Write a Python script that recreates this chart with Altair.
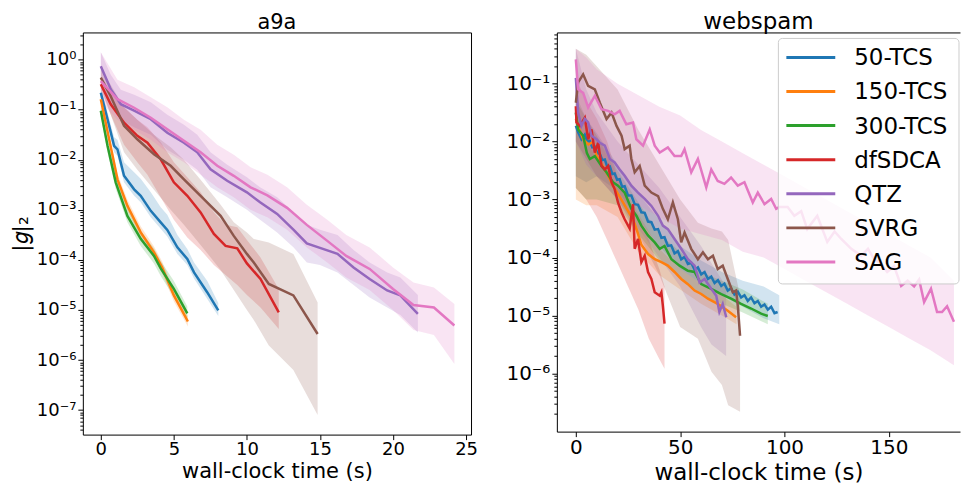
import altair as alt
import pandas as pd

SERIES = ["50-TCS", "150-TCS", "300-TCS", "dfSDCA", "QTZ", "SVRG", "SAG"]
COLORS = ["#1f77b4", "#ff7f0e", "#2ca02c", "#d62728", "#9467bd", "#8c564b", "#e377c2"]

# ---------------- a9a (left): time in s, log10 of |g|_2 ----------------
a9a_50tcs_t = [0, 0.46, 0.91, 1.14, 1.59, 2.28, 2.73, 3.42, 4.1, 4.55, 5.24, 5.92, 6.38, 7.29, 8.04]
a9a_50tcs_m = [-0.66, -1.19, -1.72, -1.79, -2.32, -2.59, -2.72, -3.02, -3.25, -3.4, -3.75, -3.98, -4.25, -4.65, -5.01]
a9a_50tcs_lo = [-0.76, -1.32, -1.85, -1.92, -2.45, -2.72, -2.85, -3.15, -3.38, -3.53, -3.88, -4.1, -4.37, -4.78, -5.12]
a9a_50tcs_hi = [-0.55, -1.05, -1.55, -1.6, -2.05, -2.25, -2.38, -2.65, -2.95, -3.1, -3.5, -3.78, -4.05, -4.42, -4.86]

a9a_150tcs_t = [0, 0.57, 1.14, 1.82, 2.73, 3.64, 4.2, 5.0, 5.96]
a9a_150tcs_m = [-0.79, -1.59, -2.39, -2.92, -3.45, -3.85, -4.15, -4.71, -5.23]
a9a_150tcs_lo = [-0.88, -1.7, -2.5, -3.02, -3.55, -3.95, -4.27, -4.83, -5.33]
a9a_150tcs_hi = [-0.7, -1.48, -2.28, -2.8, -3.33, -3.73, -4.03, -4.6, -5.12]

a9a_300tcs_t = [0, 0.46, 1.02, 1.82, 2.73, 3.64, 4.1, 5.0, 5.92]
a9a_300tcs_m = [-1.02, -1.72, -2.45, -3.12, -3.58, -3.92, -4.17, -4.58, -5.07]
a9a_300tcs_lo = [-1.14, -1.85, -2.58, -3.25, -3.72, -4.07, -4.32, -4.73, -5.2]
a9a_300tcs_hi = [-0.9, -1.6, -2.3, -2.95, -3.42, -3.77, -4.02, -4.42, -4.93]

a9a_dfsdca_t = [0, 0.68, 1.59, 2.5, 3.19, 4.1, 5.0, 5.92, 6.83, 7.74, 8.54, 9.34, 10.0, 10.93, 12.18]
a9a_dfsdca_m = [-0.49, -0.89, -1.26, -1.52, -1.66, -1.99, -2.45, -2.72, -3.05, -3.48, -3.72, -3.77, -4.07, -4.38, -5.05]
a9a_dfsdca_lo = [-0.6, -1.1, -1.7, -2.05, -2.3, -2.75, -3.2, -3.55, -3.8, -4.1, -4.3, -4.5, -4.7, -4.95, -5.38]
a9a_dfsdca_hi = [-0.35, -0.65, -0.95, -1.2, -1.35, -1.65, -2.05, -2.35, -2.65, -3.05, -3.3, -3.35, -3.6, -3.95, -4.58]

a9a_qtz_t = [0, 0.68, 1.37, 2.28, 3.42, 4.55, 5.69, 6.6, 7.51, 8.65, 10.0, 10.9, 12.07, 13.2, 14.1, 15.0,
             16.2, 17.3, 18.4, 19.6, 20.5, 21.7]
a9a_qtz_m = [-0.13, -0.59, -0.89, -1.02, -1.19, -1.46, -1.66, -1.85, -2.19, -2.42, -2.65, -2.85, -3.08, -3.4,
             -3.67, -3.76, -3.88, -4.15, -4.38, -4.61, -4.71, -5.08]
a9a_qtz_lo = [-0.45, -0.9, -1.2, -1.35, -1.5, -1.8, -2.0, -2.2, -2.55, -2.75, -3.0, -3.2, -3.45, -3.75, -4.05,
              -4.1, -4.25, -4.5, -4.75, -4.95, -5.1, -5.45]
a9a_qtz_hi = [0.15, -0.3, -0.6, -0.7, -0.85, -1.1, -1.3, -1.5, -1.85, -2.1, -2.35, -2.55, -2.75, -3.05, -3.3,
              -3.4, -3.5, -3.8, -4.05, -4.25, -4.35, -4.7]

a9a_svrg_t = [0, 0.68, 1.59, 2.5, 3.64, 4.78, 5.69, 6.83, 8.2, 9.1, 10.0, 10.47, 11.5, 13.18, 14.84]
a9a_svrg_m = [-0.36, -0.73, -1.32, -1.59, -1.89, -2.12, -2.39, -2.72, -3.12, -3.52, -3.88, -4.05, -4.48, -4.71, -5.48]
a9a_svrg_lo = [-0.55, -1.1, -1.85, -2.2, -2.6, -3.0, -3.3, -3.7, -4.2, -4.6, -5.0, -5.2, -5.71, -6.2, -7.1]
a9a_svrg_hi = [-0.2, -0.5, -0.95, -1.2, -1.5, -1.75, -2.0, -2.4, -2.9, -3.25, -3.45, -3.58, -3.65, -3.88, -4.85]

a9a_sag_t = [0, 1.14, 2.28, 3.42, 4.55, 5.69, 6.83, 7.97, 9.1, 10.25, 11.4, 12.75, 14.1, 15.5, 16.8, 18.4,
             20.0, 21.4, 22.8, 24.2]
a9a_sag_m = [-0.43, -0.79, -0.96, -1.16, -1.39, -1.62, -1.85, -2.12, -2.32, -2.55, -2.71, -2.96, -3.3, -3.62,
             -3.92, -4.18, -4.58, -4.9, -4.95, -5.31]
a9a_sag_lo = [-0.85, -1.2, -1.4, -1.6, -1.85, -2.05, -2.3, -2.55, -2.75, -3.0, -3.15, -3.4, -3.75, -4.05, -4.35,
              -4.6, -5.0, -5.4, -5.5, -6.08]
a9a_sag_hi = [0.15, -0.4, -0.55, -0.75, -0.95, -1.2, -1.4, -1.7, -1.9, -2.15, -2.3, -2.55, -2.9, -3.2, -3.5,
              -3.75, -4.15, -4.45, -4.55, -4.88]

# ---------------- webspam (right) ----------------
ws_50tcs_t = [0, 1.1, 2.7, 4.3, 5.5, 6.7, 7.9, 9.1, 10.3, 11.5, 12.7, 13.9, 15.1, 16.3, 17.5, 18.6, 19.8, 21,
              22.2, 23.4, 25, 26.6, 28.2, 29.8, 31.4, 33, 34.6, 36.2, 37.8, 39.4, 41, 42.5, 44.1, 45.7, 47.3,
              48.9, 50.5, 52.1, 53.7, 55.3, 56.9, 58.5, 60.1, 61.7, 63.3, 64.9, 66.5, 68.1, 69.7, 71.2, 72.8,
              74.4, 76, 77.6, 79.2, 80.8, 82.4, 84, 85.6, 87.2, 88.8, 90.4, 92, 93.6, 95.2, 96.7]
ws_50tcs_m = [-1.73, -1.84, -1.96, -1.88, -2.0, -1.99, -2.1, -2.09, -2.2, -2.21, -2.32, -2.31, -2.44, -2.43,
              -2.56, -2.55, -2.66, -2.65, -2.78, -2.77, -2.93, -2.93, -3.08, -3.09, -3.22, -3.23, -3.38, -3.39,
              -3.52, -3.51, -3.66, -3.65, -3.8, -3.79, -3.93, -3.89, -4.03, -3.99, -4.11, -4.09, -4.21, -4.17,
              -4.29, -4.25, -4.37, -4.33, -4.44, -4.39, -4.49, -4.45, -4.57, -4.53, -4.64, -4.59, -4.69, -4.65,
              -4.75, -4.69, -4.79, -4.75, -4.85, -4.81, -4.9, -4.85, -4.96, -4.94]
ws_50tcs_bt = [0, 5, 10, 20, 30, 40, 50, 60, 70, 80, 90, 97.5]
ws_50tcs_lo = [-2.6, -2.7, -2.6, -2.85, -3.35, -3.8, -4.2, -4.45, -4.65, -4.85, -5.05, -5.15]
ws_50tcs_hi = [-1.3, -1.6, -1.85, -2.4, -2.9, -3.35, -3.8, -4.05, -4.25, -4.4, -4.5, -4.65]

ws_150tcs_t = [0, 1.1, 3.5, 6, 8.1, 10, 12.3, 14.6, 17.8, 21, 24.2, 27.4, 29, 31.4, 34.6, 37.8, 41, 44.1,
               47.3, 50.5, 53.7, 56.9, 60.1, 63.3, 68, 72.8, 76.8]
ws_150tcs_m = [-1.61, -1.73, -1.96, -2.05, -2.01, -2.25, -2.38, -2.53, -2.76, -2.95, -3.15, -3.34, -3.5, -3.78,
               -3.94, -4.03, -4.08, -4.14, -4.25, -4.37, -4.46, -4.57, -4.63, -4.71, -4.8, -4.92, -5.03]
ws_150tcs_bt = [0, 5, 10, 20, 30, 40, 50, 60, 70, 77]
ws_150tcs_lo = [-3.0, -3.1, -3.1, -3.3, -3.9, -4.3, -4.55, -4.8, -5.0, -5.15]
ws_150tcs_hi = [-1.3, -1.6, -1.9, -2.6, -3.25, -3.85, -4.2, -4.45, -4.65, -4.85]

ws_300tcs_t = [0, 1.1, 3.5, 5.3, 6.7, 9.1, 12.3, 14.7, 17.8, 20.2, 23.4, 26.6, 29, 31.4, 34.6, 37.8, 40.2,
               42.5, 45.8, 49.7, 53.7, 56.9, 60.1, 64.9, 69.7, 74.4, 79.2, 84, 88.8, 92]
ws_300tcs_m = [-1.5, -1.79, -1.9, -2.2, -2.3, -2.25, -2.42, -2.53, -2.7, -2.76, -2.88, -3.16, -3.28, -3.45,
               -3.62, -3.74, -3.85, -3.8, -4.03, -4.14, -4.23, -4.25, -4.46, -4.54, -4.63, -4.71, -4.8, -4.88,
               -4.97, -5.01]
ws_300tcs_bt = [0, 5, 10, 20, 30, 40, 50, 60, 70, 80, 92]
ws_300tcs_lo = [-2.8, -3.0, -3.0, -3.1, -3.6, -4.05, -4.35, -4.65, -4.8, -4.95, -5.15]
ws_300tcs_hi = [-1.2, -1.6, -1.9, -2.5, -3.05, -3.6, -3.9, -4.25, -4.4, -4.55, -4.8]

ws_dfsdca_t = [0, 0.3, 1.9, 4.3, 5.9, 7.5, 9.1, 10.7, 12.3, 13.9, 15.5, 17.1, 18.6, 20.2, 21.9, 23.4, 25.8,
               27.4, 28.2, 29.8, 31.4, 33, 34.6, 36.2, 37.8, 40.2, 41, 41.7, 42.5]
ws_dfsdca_m = [-1.39, -1.67, -1.73, -1.59, -1.96, -1.79, -2.19, -2.02, -2.42, -2.48, -2.42, -2.7, -2.82, -3.05,
               -3.22, -3.34, -3.5, -3.08, -3.85, -3.68, -4.08, -3.97, -4.25, -4.37, -4.6, -4.66, -4.6, -4.83, -5.14]
ws_dfsdca_bt = [0, 5, 10, 15, 20, 25, 30, 35, 40, 42.5]
ws_dfsdca_lo = [-2.8, -3.0, -3.3, -3.7, -4.1, -4.5, -4.9, -5.4, -5.75, -5.92]
ws_dfsdca_hi = [-0.9, -1.3, -1.6, -2.0, -2.6, -3.0, -3.3, -3.7, -4.2, -4.5]

ws_qtz_t = [0, 1.1, 2.7, 4.3, 5.9, 7.5, 9.9, 11.5, 13.9, 16.3, 18.6, 21, 23.4, 26.6, 29.8, 33, 36.2, 39.4,
            41.7, 44.1, 47.3, 50.5, 53.7, 56.9, 59.3, 61.7, 64.9, 67.3, 68.8, 70.4, 72.1]
ws_qtz_m = [-0.9, -1.5, -1.73, -1.61, -1.67, -1.9, -1.96, -2.02, -2.07, -2.3, -2.36, -2.48, -2.59, -2.76, -2.88,
            -2.99, -3.11, -3.28, -3.45, -3.51, -3.68, -3.85, -4.03, -4.14, -4.43, -4.37, -4.54, -4.66, -4.94,
            -4.8, -5.03]
ws_qtz_bt = [0, 5, 10, 20, 30, 40, 50, 60, 65, 72]
ws_qtz_lo = [-2.0, -2.4, -2.6, -3.0, -3.5, -4.0, -4.5, -5.2, -5.5, -5.7]
ws_qtz_hi = [-0.4, -1.1, -1.5, -2.0, -2.4, -2.8, -3.3, -3.8, -4.1, -4.5]

ws_svrg_t = [0, 1.1, 3.5, 5.9, 9.1, 11.5, 14.7, 17.1, 19.5, 21.9, 23.4, 25.8, 26.6, 28.2, 30.6, 33, 36.2,
             39.4, 41.7, 44.1, 46.5, 48.9, 50.5, 52.1, 55.3, 58.5, 60.9, 63.3, 65.7, 68, 70.4, 72.8, 75.2,
             76.8, 77.6, 78.7]
ws_svrg_m = [-1.33, -0.98, -0.84, -1.04, -1.10, -1.33, -1.61, -1.5, -1.73, -1.9, -2.13, -2.07, -2.3, -2.53,
             -2.42, -2.76, -2.88, -2.94, -3.16, -3.34, -3.05, -3.34, -3.74, -3.57, -3.85, -4.03, -3.91, -4.03,
             -3.97, -4.2, -4.14, -4.37, -4.6, -4.57, -4.83, -5.35]
ws_svrg_bt = [0, 5, 10, 20, 30, 40, 50, 58.5, 65, 70, 73, 78.7]
ws_svrg_lo = [-2.0, -2.3, -2.6, -3.0, -3.6, -4.3, -5.2, -5.4, -5.97, -6.2, -6.55, -6.66]
ws_svrg_hi = [-0.4, -0.5, -0.7, -1.1, -1.8, -2.4, -3.0, -3.4, -3.5, -3.55, -3.7, -4.66]

ws_sag_t = [0, 1.1, 3.5, 5.9, 9.1, 12.3, 15.5, 18.6, 21, 24.2, 27.4, 29, 32.2, 35.4, 37.8, 40.2, 44.1, 47.3,
            50.5, 52.1, 55.3, 58.5, 62.5, 64.9, 68, 71.2, 74.4, 77.6, 80.8, 84.8, 87.2, 90.4, 93.6, 96, 97.5,
            101.5, 104.7, 108, 110.9, 115.7, 120.5, 124, 127.2, 132, 136.8, 140, 143, 146, 149.2, 152.5,
            155.9, 159, 162.1, 164.5, 166.9, 170.2, 173.1, 175.5, 177.9, 181.2]
ws_sag_m = [-0.58, -1.10, -1.16, -1.41, -1.21, -1.44, -1.47, -1.53, -1.47, -1.70, -1.67, -1.96, -2.07, -1.79,
            -2.07, -2.19, -2.10, -2.25, -2.25, -2.13, -2.53, -2.30, -2.79, -2.48, -2.68, -2.73, -2.62, -2.76,
            -2.70, -3.05, -2.88, -3.08, -2.99, -3.16, -3.13, -3.13, -3.28, -3.2, -3.51, -3.28, -3.73, -3.55,
            -3.68, -3.85, -3.97, -3.85, -4.03, -4.1, -4.25, -4.15, -4.49, -4.4, -4.5, -4.38, -4.77, -4.54,
            -4.94, -4.94, -4.84, -5.11]
ws_sag_bt = [0, 5, 10, 20, 30, 40, 50, 60, 70, 80, 90, 100, 110, 120, 130, 140, 150, 160, 170, 181.2]
ws_sag_lo = [-1.6, -2.0, -2.3, -2.8, -3.1, -3.3, -3.5, -3.6, -3.7, -3.9, -4.0, -4.2, -4.4, -4.6, -4.8, -5.0,
             -5.2, -5.4, -5.6, -5.86]
ws_sag_hi = [-0.4, -0.55, -0.75, -1.0, -1.2, -1.4, -1.55, -1.8, -2.0, -2.2, -2.4, -2.6, -2.8, -3.0, -3.2,
             -3.4, -3.6, -3.8, -4.0, -4.4]

# axis ticks (log10 exponents for y)
a9a_x_ticks = [0, 5, 10, 15, 20, 25]
a9a_y_exps = [0, -1, -2, -3, -4, -5, -6, -7]
ws_x_ticks = [0, 50, 100, 150]
ws_y_exps = [-1, -2, -3, -4, -5, -6]

# ---------------- build tables ----------------
a9a_lines = [
    ("50-TCS", a9a_50tcs_t, a9a_50tcs_m, a9a_50tcs_t, a9a_50tcs_lo, a9a_50tcs_hi),
    ("150-TCS", a9a_150tcs_t, a9a_150tcs_m, a9a_150tcs_t, a9a_150tcs_lo, a9a_150tcs_hi),
    ("300-TCS", a9a_300tcs_t, a9a_300tcs_m, a9a_300tcs_t, a9a_300tcs_lo, a9a_300tcs_hi),
    ("dfSDCA", a9a_dfsdca_t, a9a_dfsdca_m, a9a_dfsdca_t, a9a_dfsdca_lo, a9a_dfsdca_hi),
    ("QTZ", a9a_qtz_t, a9a_qtz_m, a9a_qtz_t, a9a_qtz_lo, a9a_qtz_hi),
    ("SVRG", a9a_svrg_t, a9a_svrg_m, a9a_svrg_t, a9a_svrg_lo, a9a_svrg_hi),
    ("SAG", a9a_sag_t, a9a_sag_m, a9a_sag_t, a9a_sag_lo, a9a_sag_hi),
]
ws_lines = [
    ("50-TCS", ws_50tcs_t, ws_50tcs_m, ws_50tcs_bt, ws_50tcs_lo, ws_50tcs_hi),
    ("150-TCS", ws_150tcs_t, ws_150tcs_m, ws_150tcs_bt, ws_150tcs_lo, ws_150tcs_hi),
    ("300-TCS", ws_300tcs_t, ws_300tcs_m, ws_300tcs_bt, ws_300tcs_lo, ws_300tcs_hi),
    ("dfSDCA", ws_dfsdca_t, ws_dfsdca_m, ws_dfsdca_bt, ws_dfsdca_lo, ws_dfsdca_hi),
    ("QTZ", ws_qtz_t, ws_qtz_m, ws_qtz_bt, ws_qtz_lo, ws_qtz_hi),
    ("SVRG", ws_svrg_t, ws_svrg_m, ws_svrg_bt, ws_svrg_lo, ws_svrg_hi),
    ("SAG", ws_sag_t, ws_sag_m, ws_sag_bt, ws_sag_lo, ws_sag_hi),
]


def tables(spec):
    lrows, brows = [], []
    for order, (name, t, m, bt, lo, hi) in enumerate(spec):
        for a, b in zip(t, m):
            lrows.append({"series": name, "k": order, "t": a, "v": 10 ** b})
        for a, l, h in zip(bt, lo, hi):
            brows.append({"band": name, "k": order, "t": a, "lo": 10 ** l, "hi": 10 ** h})
    return pd.DataFrame(lrows), pd.DataFrame(brows)


SUP = str.maketrans("0123456789-", "⁰¹²³⁴⁵⁶⁷⁸⁹⁻")


def label_expr(exps):
    expr = "''"
    for e in exps:
        expr = f"round(log(datum.value)/LN10) == {e} ? '10{str(e).translate(SUP)}' : " + expr
    return expr


def minor_values(lo_e, hi_e):
    vals = []
    for k in range(int(lo_e) - 1, int(hi_e) + 1):
        for d in range(2, 10):
            v = d * 10.0 ** k
            if 10 ** lo_e <= v <= 10 ** hi_e:
                vals.append(v)
    return vals


FONT = "DejaVu Sans"


def panel(spec, title, title_size, title_offset, xdom, xticks, ylo, yhi, yexps, w, h,
          tick_fs, axis_title_fs, xtitle_pad, ytitle, with_legend):
    # the right panel runs off the page edge in the original: it has no right-hand frame line,
    # so its left, bottom and top frame lines come from axis domain lines instead of the view box
    open_right = with_legend
    ldf, bdf = tables(spec)
    xs = alt.Scale(domain=xdom, nice=False, zero=False)
    ys = alt.Scale(type="log", domain=[10 ** ylo, 10 ** yhi], nice=False)
    cs = alt.Scale(domain=SERIES, range=COLORS)
    frame = dict(domain=open_right, domainColor="black", domainWidth=1)
    xaxis = alt.Axis(values=xticks, title="wall-clock time (s)", labelFontSize=tick_fs,
                     titleFontSize=axis_title_fs, tickSize=5, labelPadding=1, titlePadding=xtitle_pad,
                     labelFlush=False, grid=False, **frame)
    yargs = dict(values=[10.0 ** e for e in yexps], labelExpr=label_expr(yexps), labelFontSize=tick_fs,
                 tickSize=5, labelPadding=2, labelFlush=False, grid=False, orient="left", **frame)
    if ytitle:
        yaxis = alt.Axis(title=ytitle, titleFontSize=22, titlePadding=4, **yargs)
    else:
        yaxis = alt.Axis(title=None, **yargs)
    minor_axis = alt.Axis(values=minor_values(ylo, yhi), labels=False, tickSize=3, title=None,
                          grid=False, domain=False, orient="left")
    if open_right:
        top_axis = alt.Axis(orient="top", labels=False, ticks=False, title=None, grid=False,
                            domain=True, domainColor="black", domainWidth=1)
    else:
        top_axis = None

    bands = alt.Chart(bdf).mark_area(opacity=0.2).encode(
        x=alt.X("t:Q", scale=xs, axis=None),
        y=alt.Y("lo:Q", scale=ys, axis=None, stack=False),
        y2="hi:Q",
        fill=alt.Fill("band:N", scale=cs, legend=None),
        order=alt.Order("k:Q"),
    )
    lines = alt.Chart(ldf).mark_line(strokeWidth=2.5).encode(
        x=alt.X("t:Q", scale=xs, axis=xaxis),
        y=alt.Y("v:Q", scale=ys, axis=yaxis),
        color=alt.Color("series:N", scale=cs, legend=None),
        order=alt.Order("t:Q"),
    )
    minor = alt.Chart(ldf).mark_line(strokeOpacity=0).encode(
        x=alt.X("t:Q", scale=xs, axis=top_axis),
        y=alt.Y("v:Q", scale=ys, axis=minor_axis),
        detail="series:N",
    )
    layers = [bands, lines, minor]
    if with_legend:
        leg_df = pd.DataFrame({"series": SERIES})
        box_df = pd.DataFrame({"box": [0]})
        rows = alt.Scale(type="point", domain=SERIES, range=[25, 230], padding=0)
        box = alt.Chart(box_df).mark_rect(fill="white", fillOpacity=0.8, stroke="#cccccc",
                                          strokeWidth=1, cornerRadius=4).encode(
            x=alt.value(222), x2=alt.value(403), y=alt.value(6), y2=alt.value(252))
        keys = alt.Chart(leg_df).mark_rule(strokeWidth=3).encode(
            x=alt.value(230), x2=alt.value(279),
            y=alt.Y("series:N", scale=rows, axis=None),
            color=alt.Color("series:N", scale=cs, legend=None))
        names = alt.Chart(leg_df).mark_text(align="left", baseline="middle", fontSize=23, font=FONT,
                                            color="black", dy=1).encode(
            x=alt.value(298),
            y=alt.Y("series:N", scale=rows, axis=None),
            text="series:N")
        layers += [box, keys, names]
    chart = alt.layer(*layers).resolve_axis(x="independent", y="independent")
    if with_legend:
        chart = chart.resolve_scale(y="independent")
    props = dict(
        width=w, height=h,
        title=alt.TitleParams(title, fontSize=title_size, offset=title_offset, font=FONT,
                              fontWeight="normal", anchor="middle", color="black"),
    )
    if open_right:
        props["view"] = alt.ViewBackground(stroke="transparent")
    return chart.properties(**props)


left = panel(a9a_lines, "a9a", 21, -1, [-1.23, 25.34], a9a_x_ticks, -7.49, 0.544, a9a_y_exps,
             389, 403, 18, 21, 2, "|𝑔|₂", False)
right = panel(ws_lines, "webspam", 23, -2, [-9.1, 184.1], ws_x_ticks, -7.004, -0.117, ws_y_exps,
              404, 400, 20, 23, 4, None, True)

chart = alt.hconcat(left, right, spacing=86, bounds="flush").resolve_scale(
    color="independent", fill="independent", x="independent", y="independent"
).properties(
    padding={"left": 0, "top": 2, "right": 0, "bottom": 0},
    autosize=alt.AutoSizeParams(type="pad"),
).configure_view(
    stroke="black", strokeWidth=1
).configure_axis(
    labelFont=FONT, titleFont=FONT, labelColor="black", titleColor="black", tickColor="black",
    titleFontWeight="normal"
).configure_title(font=FONT, fontWeight="normal", color="black")

chart.save("out.html", embed_options={"renderer": "svg", "actions": False})
